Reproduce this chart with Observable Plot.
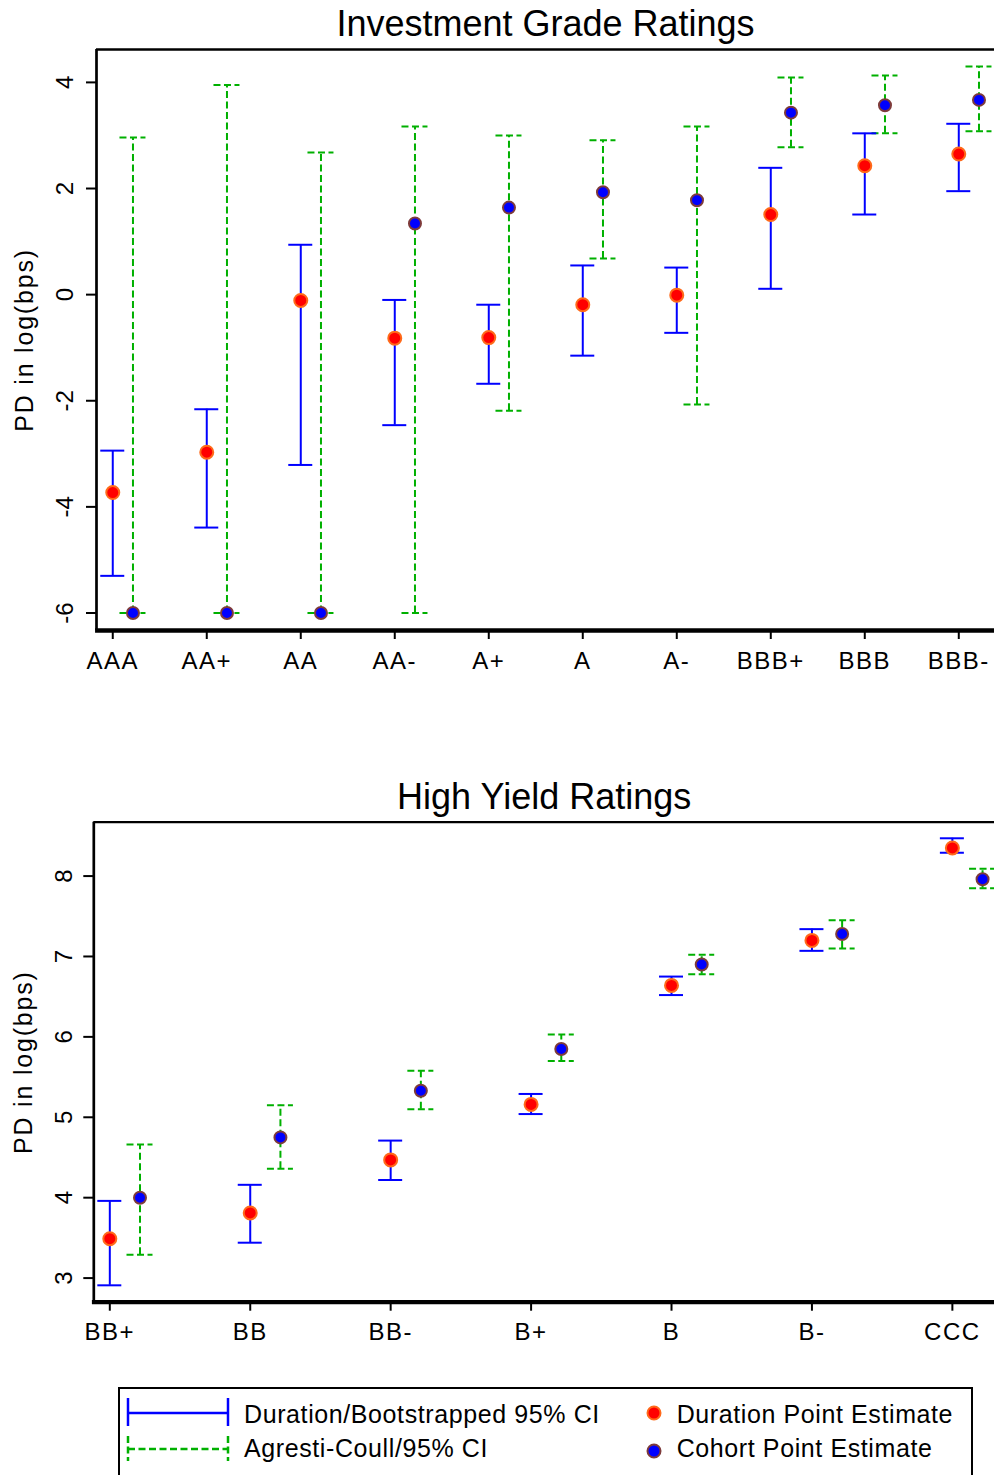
<!DOCTYPE html>
<html><head><meta charset="utf-8">
<script src="https://cdn.jsdelivr.net/npm/d3@7"></script>
<script src="https://cdn.jsdelivr.net/npm/@observablehq/plot@0.6"></script>
<style>
body{margin:0;background:#fff;font-family:"Liberation Sans",Arial,sans-serif;}
#root{position:relative;width:994px;height:1475px;overflow:hidden;background:#fff;}
.panel{position:absolute;left:0;}
g[aria-label="x-axis tick label"] text{letter-spacing:1.5px}
.ylab text{letter-spacing:1.8px}
#legend{position:absolute;left:118px;top:1387px;width:855px;height:110px;border:2px solid #000;box-sizing:border-box;}
.lt{position:absolute;font-size:25px;line-height:25px;letter-spacing:0.6px;white-space:nowrap;color:#000;}
.sw{position:absolute;}
</style></head><body><div id="root"></div>
<script>
// ---------- Investment grade data ----------
const igRatings = ["AAA","AA+","AA","AA-","A+","A","A-","BBB+","BBB","BBB-"];
const igDurEst = [-3.73,-2.97,-0.11,-0.82,-0.81,-0.19,-0.01,1.51,2.43,2.65];
const igDurLo  = [-5.30,-4.39,-3.21,-2.46,-1.68,-1.15,-0.72,0.11,1.51,1.95];
const igDurHi  = [-2.94,-2.16,0.94,-0.10,-0.19,0.55,0.51,2.39,3.04,3.22];
const igCohEst = [-6,-6,-6,1.34,1.64,1.93,1.78,3.43,3.57,3.67];
const igCohLo  = [-6,-6,-6,-6,-2.19,0.68,-2.07,2.78,3.04,3.08];
const igCohHi  = [2.96,3.95,2.68,3.17,3.00,2.91,3.17,4.09,4.13,4.30];
const igYTicks = [-6,-4,-2,0,2,4];

// ---------- High yield data ----------
const hyRatings = ["BB+","BB","BB-","B+","B","B-","CCC"];
const hyDurEst = [3.49,3.81,4.47,5.16,6.64,7.20,8.35];
const hyDurLo  = [2.91,3.44,4.22,5.04,6.52,7.07,8.29];
const hyDurHi  = [3.96,4.16,4.71,5.29,6.75,7.34,8.47];
const hyCohEst = [4.00,4.75,5.33,5.85,6.90,7.28,7.96];
const hyCohLo  = [3.29,4.36,5.10,5.70,6.78,7.10,7.85];
const hyCohHi  = [4.66,5.15,5.58,6.03,7.02,7.45,8.09];
const hyYTicks = [3,4,5,6,7,8];

const titles = ["Investment Grade Ratings","High Yield Ratings"];
const yLabel = "PD in log(bps)";
const legendLabels = ["Duration/Bootstrapped 95% CI","Agresti-Coull/95% CI","Duration Point Estimate","Cohort Point Estimate"];

const BLUE="#0000ff", GREEN="#00b000", RED="#ff0000", REDSTROKE="#ff6a1a", COHSTROKE="#7e3b3b";
const W = 994;

function panel(o){
  const rows = o.ratings.map((r,i)=>({i, r, de:o.durEst[i], dl:o.durLo[i], dh:o.durHi[i], ce:o.cohEst[i], cl:o.cohLo[i], ch:o.cohHi[i]}));
  const ppu = (W - o.marginLeft)/(o.xDomain[1]-o.xDomain[0]);
  const bw = 12/ppu, gw = 13/ppu, off = 0.215;
  const dash = "7,3.5";
  return Plot.plot({
    width: W, height: o.height,
    marginTop: o.marginTop, marginBottom: o.marginBottom, marginLeft: o.marginLeft, marginRight: 0,
    x: {domain: o.xDomain}, y: {domain: o.yDomain},
    style: {fontFamily: '"Liberation Sans", Arial, sans-serif', color: "#000", background: "transparent", overflow: "visible"},
    marks: [
      // Agresti-Coull CI (green dashed)
      Plot.ruleX(rows, {x: d=>d.i+off, y1:"cl", y2:"ch", stroke: GREEN, strokeWidth: 2, strokeDasharray: dash}),
      Plot.ruleY(rows, {y:"cl", x1: d=>d.i+off-gw, x2: d=>d.i+off+gw, stroke: GREEN, strokeWidth: 2, strokeDasharray: dash}),
      Plot.ruleY(rows, {y:"ch", x1: d=>d.i+off-gw, x2: d=>d.i+off+gw, stroke: GREEN, strokeWidth: 2, strokeDasharray: dash}),
      // Duration CI (blue)
      Plot.ruleX(rows, {x:"i", y1:"dl", y2:"dh", stroke: BLUE, strokeWidth: 2}),
      Plot.ruleY(rows, {y:"dl", x1: d=>d.i-bw, x2: d=>d.i+bw, stroke: BLUE, strokeWidth: 2}),
      Plot.ruleY(rows, {y:"dh", x1: d=>d.i-bw, x2: d=>d.i+bw, stroke: BLUE, strokeWidth: 2}),
      // points
      Plot.dot(rows, {x:"i", y:"de", r:6.5, fill: RED, stroke: REDSTROKE, strokeWidth: 2}),
      Plot.dot(rows, {x: d=>d.i+off, y:"ce", r:6, fill: BLUE, stroke: COHSTROKE, strokeWidth: 2}),
      // frame (left, top, bottom)
      Plot.ruleX([o.xDomain[0]], {y1: o.yDomain[0], y2: o.yDomain[1], strokeWidth: 2.7}),
      Plot.ruleY([o.yDomain[1]], {x1: o.xDomain[0], x2: o.xDomain[1], strokeWidth: 2.3}),
      Plot.ruleY([o.yDomain[0]], {x1: o.xDomain[0]-0.01, x2: o.xDomain[1], strokeWidth: 4.3}),
      // axes
      Plot.axisY({ticks: o.yTicks, tickSize: 10, tickPadding: o.yTickPadding, tickRotate: -90, fontSize: 24, strokeWidth: 2, tickFormat: d=>String(d), label: null}),
      Plot.axisX({ticks: d3.range(o.ratings.length), tickSize: 9, tickPadding: 12, fontSize: 24, strokeWidth: 2, tickFormat: i=>o.ratings[i], label: null}),
      // title and y label
      Plot.text([o.title], {text: d=>d, frameAnchor: "top", lineAnchor: "middle", textAnchor: "middle", dy: o.titleDy, fontSize: 36}),
      Plot.text([yLabel], {text: d=>d, frameAnchor: "left", rotate: -90, textAnchor: "middle", lineAnchor: "middle", dx: o.labelDx, fontSize: 25, className: "ylab"})
    ]
  });
}

const root = document.getElementById("root");

const p1 = panel({ratings: igRatings, durEst: igDurEst, durLo: igDurLo, durHi: igDurHi, cohEst: igCohEst, cohLo: igCohLo, cohHi: igCohHi,
  yTicks: igYTicks, xDomain: [-0.173, 9.38], yDomain: [-6.33, 4.62], height: 700, marginTop: 49, marginBottom: 70, marginLeft: 96,
  title: titles[0], titleDy: -25, labelDx: -72, yTickPadding: 14});
p1.classList.add("panel"); p1.style.top = "0px";
root.appendChild(p1);

const p2 = panel({ratings: hyRatings, durEst: hyDurEst, durLo: hyDurLo, durHi: hyDurHi, cohEst: hyCohEst, cohLo: hyCohLo, cohHi: hyCohHi,
  yTicks: hyYTicks, xDomain: [-0.114, 6.30], yDomain: [2.70, 8.67], height: 610, marginTop: 61.7, marginBottom: 68.3, marginLeft: 93.3,
  title: titles[1], titleDy: -25, labelDx: -70, yTickPadding: 12});
p2.classList.add("panel"); p2.style.top = "760px";
root.appendChild(p2);

// ---------- legend ----------
const NS = "http://www.w3.org/2000/svg";
function svgEl(tag, attrs){ const e = document.createElementNS(NS, tag); for (const k in attrs) e.setAttribute(k, attrs[k]); return e; }
function swatchCI(left, top, color, dash){
  const s = svgEl("svg", {width: 106, height: 34});
  s.classList.add("sw"); s.style.left = left+"px"; s.style.top = top+"px";
  const a = {stroke: color, "stroke-width": 2.5, fill: "none"};
  if (dash) a["stroke-dasharray"] = dash;
  s.appendChild(svgEl("line", Object.assign({x1: 2, x2: 102, y1: 17, y2: 17}, a)));
  s.appendChild(svgEl("line", Object.assign({x1: 2, x2: 2, y1: dash?4:2, y2: dash?29:30}, a)));
  s.appendChild(svgEl("line", Object.assign({x1: 102, x2: 102, y1: dash?4:2, y2: dash?29:30}, a)));
  root.appendChild(s);
}
function swatchDot(cx, cy, fill, stroke){
  const s = svgEl("svg", {width: 20, height: 20});
  s.classList.add("sw"); s.style.left = (cx-10)+"px"; s.style.top = (cy-10)+"px";
  s.appendChild(svgEl("circle", {cx: 10, cy: 10, r: 6.5, fill, stroke, "stroke-width": 2}));
  root.appendChild(s);
}
function label(txt, left, top){
  const d = document.createElement("div"); d.className = "lt"; d.textContent = txt;
  d.style.left = left+"px"; d.style.top = top+"px"; root.appendChild(d);
}
const lg = document.createElement("div"); lg.id = "legend"; root.appendChild(lg);
swatchCI(126, 1396, BLUE, null);
swatchCI(126, 1432, GREEN, "7,3.5");
label(legendLabels[0], 244, 1401.5);
label(legendLabels[1], 244, 1436);
swatchDot(654.3, 1413.3, RED, REDSTROKE);
swatchDot(654.3, 1450.7, BLUE, COHSTROKE);
label(legendLabels[2], 676.7, 1401.5);
label(legendLabels[3], 676.7, 1436);
</script></body></html>
